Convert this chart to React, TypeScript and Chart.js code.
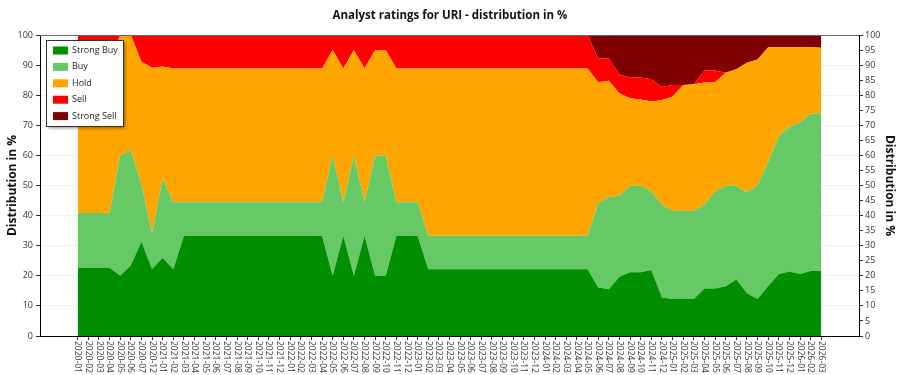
import React, { useEffect, useRef } from 'react';
import { Chart, registerables } from 'chart.js';
Chart.register(...registerables);

const FONT = "'Open Sans', 'Noto Sans', sans-serif";

const months = [
  '2020-01', '2020-02', '2020-03', '2020-04', '2020-05', '2020-06', '2020-07', '2020-12',
  '2021-01', '2021-02', '2021-03', '2021-04', '2021-05', '2021-06', '2021-07', '2021-08', '2021-09', '2021-10', '2021-11', '2021-12',
  '2022-01', '2022-02', '2022-03', '2022-04', '2022-05', '2022-06', '2022-07', '2022-08', '2022-09', '2022-10', '2022-11', '2022-12',
  '2023-01', '2023-02', '2023-03', '2023-04', '2023-05', '2023-06', '2023-07', '2023-08', '2023-09', '2023-10', '2023-11', '2023-12',
  '2024-01', '2024-02', '2024-03', '2024-04', '2024-05', '2024-06', '2024-07', '2024-08', '2024-09', '2024-10', '2024-11', '2024-12',
  '2025-01', '2025-02', '2025-03', '2025-04', '2025-05', '2025-06', '2025-07', '2025-08', '2025-09', '2025-10', '2025-11', '2025-12',
  '2026-01', '2026-02', '2026-03',
];

const strongBuy = [
  22.7, 22.7, 22.7, 22.7, 20, 23.5, 31.3, 22.3,
  26, 22.2, 33.3, 33.3, 33.3, 33.3, 33.3, 33.3, 33.3, 33.3, 33.3, 33.3,
  33.3, 33.3, 33.3, 33.3, 20, 33.3, 20, 33.3, 20, 20, 33.3, 33.3,
  33.3, 22.2, 22.2, 22.2, 22.2, 22.2, 22.2, 22.2, 22.2, 22.2, 22.2, 22.2,
  22.2, 22.2, 22.2, 22.2, 22.2, 16.1, 15.5, 19.7, 21.2, 21.2, 21.9, 12.8,
  12.3, 12.3, 12.3, 15.8, 15.8, 16.5, 18.8, 14.2, 12.3, 16.6, 20.5, 21.4,
  20.6, 21.6, 21.6,
];
const buy = [
  18.2, 18.2, 18.2, 18.2, 40, 38.3, 18.9, 11.8,
  26.4, 22.2, 11.1, 11.1, 11.1, 11.1, 11.1, 11.1, 11.1, 11.1, 11.1, 11.1,
  11.1, 11.1, 11.1, 11.1, 40, 11.1, 40, 11.1, 40, 40, 11.1, 11.1,
  11.1, 11.1, 11.1, 11.1, 11.1, 11.1, 11.1, 11.1, 11.1, 11.1, 11.1, 11.1,
  11.1, 11.1, 11.1, 11.1, 11.1, 28, 30.8, 26.9, 28.7, 28.7, 26.3, 30.7,
  29.3, 29.3, 29.3, 27.9, 32.2, 33.4, 31.1, 33.5, 37.9, 41.3, 45.9, 48.1,
  50.3, 52.2, 52.4,
];
const hold = [
  50, 50, 50, 50, 40, 38.2, 40.9, 55,
  37.1, 44.5, 44.5, 44.5, 44.5, 44.5, 44.5, 44.5, 44.5, 44.5, 44.5, 44.5,
  44.5, 44.5, 44.5, 44.5, 35, 44.5, 35, 44.5, 35, 35, 44.5, 44.5,
  44.5, 55.6, 55.6, 55.6, 55.6, 55.6, 55.6, 55.6, 55.6, 55.6, 55.6, 55.6,
  55.6, 55.6, 55.6, 55.6, 55.6, 40.2, 38.5, 34, 29.1, 28.7, 29.7, 34.9,
  37.9, 41.8, 42, 40.5, 36.3, 37.6, 38.7, 43.1, 41.7, 38, 29.5, 26.4,
  25, 22.1, 21.8,
];
const sell = [
  9.1, 9.1, 9.1, 9.1, 0, 0, 8.9, 10.9,
  10.5, 11.1, 11.1, 11.1, 11.1, 11.1, 11.1, 11.1, 11.1, 11.1, 11.1, 11.1,
  11.1, 11.1, 11.1, 11.1, 5, 11.1, 5, 11.1, 5, 5, 11.1, 11.1,
  11.1, 11.1, 11.1, 11.1, 11.1, 11.1, 11.1, 11.1, 11.1, 11.1, 11.1, 11.1,
  11.1, 11.1, 11.1, 11.1, 11.1, 7.9, 7.4, 6.3, 6.9, 7.3, 7.4, 4.4,
  3.9, 0, 0, 4, 3.9, 0, 0, 0, 0, 0, 0, 0,
  0, 0, 0,
];
const strongSell = [
  0, 0, 0, 0, 0, 0, 0, 0,
  0, 0, 0, 0, 0, 0, 0, 0, 0, 0, 0, 0,
  0, 0, 0, 0, 0, 0, 0, 0, 0, 0, 0, 0,
  0, 0, 0, 0, 0, 0, 0, 0, 0, 0, 0, 0,
  0, 0, 0, 0, 0, 7.8, 7.8, 13.1, 14.1, 14.1, 14.7, 17.2,
  16.6, 16.6, 16.4, 11.8, 11.8, 12.5, 11.4, 9.2, 8.1, 4.1, 4.1, 4.1,
  4.1, 4.1, 4.2,
];

const seriesNames = ['Strong Buy', 'Buy', 'Hold', 'Sell', 'Strong Sell'];
const seriesColors = ['#008f00', '#66c966', '#ffa500', '#ff0000', '#800000'];

const TITLE = 'Analyst ratings for URI - distribution in %';
const AXIS_TITLE = 'Distribution in %';

export default function App() {
  const ref = useRef<HTMLCanvasElement>(null);

  useEffect(() => {
    if (!ref.current) return;
    const values = [strongBuy, buy, hold, sell, strongSell];
    const datasets = values.map((data, k) => ({
      label: seriesNames[k],
      data,
      backgroundColor: seriesColors[k],
      borderColor: seriesColors[k],
      borderWidth: 0,
      pointRadius: 0,
      pointHoverRadius: 0,
      tension: 0,
      fill: k === 0 ? 'origin' : '-1',
      yAxisID: 'y',
    }));

    const overlay = {
      id: 'overlay',
      afterDraw(chart: any) {
        const { ctx, chartArea, scales } = chart;
        const xs = scales.x;
        ctx.save();
        // top border of plot box
        ctx.strokeStyle = '#666';
        ctx.lineWidth = 1;
        ctx.beginPath();
        ctx.moveTo(chartArea.left, Math.round(chartArea.top) + 0.5);
        ctx.lineTo(chartArea.right, Math.round(chartArea.top) + 0.5);
        ctx.stroke();

        // x labels, rotated clockwise
        ctx.font = `8.5px ${FONT}`;
        ctx.fillStyle = '#333';
        ctx.textAlign = 'left';
        ctx.textBaseline = 'middle';
        months.forEach((m, i) => {
          const px = xs.getPixelForValue(i);
          ctx.save();
          ctx.translate(px, chartArea.bottom + 5);
          ctx.rotate(Math.PI / 2);
          ctx.fillText(m, 0, 0);
          ctx.restore();
        });

        // legend box inside plot
        const lx = chartArea.left + 6;
        const ly = chartArea.top + 5;
        const lw = 77;
        const lh = 86;
        ctx.save();
        ctx.shadowColor = 'rgba(0,0,0,0.45)';
        ctx.shadowBlur = 3;
        ctx.shadowOffsetX = 2;
        ctx.shadowOffsetY = 2;
        ctx.fillStyle = '#fff';
        ctx.fillRect(lx, ly, lw, lh);
        ctx.restore();
        ctx.strokeStyle = '#333';
        ctx.lineWidth = 1;
        ctx.strokeRect(lx + 0.5, ly + 0.5, lw, lh);
        ctx.font = `9px ${FONT}`;
        ctx.textAlign = 'left';
        ctx.textBaseline = 'middle';
        seriesNames.forEach((name, k) => {
          const cy = ly + 10.5 + k * 16.4;
          ctx.fillStyle = seriesColors[k];
          ctx.fillRect(lx + 7, cy - 4, 15, 8);
          ctx.fillStyle = '#222';
          ctx.fillText(name, lx + 26, cy);
        });
        ctx.restore();
      },
    };

    const chart = new Chart(ref.current, {
      type: 'line',
      data: { labels: months.map((_, i) => i), datasets },
      plugins: [overlay],
      options: {
        animation: false,
        responsive: false,
        maintainAspectRatio: false,
        layout: { padding: 0 },
        plugins: {
          legend: { display: false },
          tooltip: { enabled: false },
          title: {
            display: true,
            text: TITLE,
            color: '#111',
            font: { family: FONT, size: 11.5, weight: 'bold' },
            padding: { top: 8.5, bottom: 12.7 },
          },
        },
        scales: {
          x: {
            type: 'linear',
            min: -3.55,
            max: 73.55,
            afterBuildTicks: (s: any) => {
              s.ticks = months.map((_, i) => ({ value: i }));
            },
            afterFit: (s: any) => {
              s.height = 39;
            },
            ticks: { display: false },
            grid: {
              display: true,
              drawOnChartArea: false,
              drawTicks: true,
              tickLength: 4,
              tickColor: '#333',
            },
            border: { display: true, color: '#000', width: 1 },
          },
          y: {
            position: 'left',
            stacked: true,
            min: 0,
            max: 100,
            afterFit: (s: any) => {
              s.width = 40;
            },
            ticks: {
              stepSize: 10,
              color: '#333',
              padding: 3,
              font: { family: FONT, size: 9 },
            },
            grid: {
              color: '#e6e6e6',
              tickColor: '#333',
              tickLength: 4,
            },
            border: { display: true, color: '#000', dash: [1, 1], width: 1 },
            title: {
              display: true,
              text: AXIS_TITLE,
              color: '#111',
              font: { family: FONT, size: 12, weight: 'bold' },
              padding: { top: 5, bottom: 0 },
            },
          },
          y2: {
            position: 'right',
            min: 0,
            max: 100,
            afterFit: (s: any) => {
              s.width = 41;
            },
            ticks: {
              stepSize: 5,
              color: '#333',
              padding: 2,
              font: { family: FONT, size: 9 },
            },
            grid: {
              drawOnChartArea: false,
              tickColor: '#333',
              tickLength: 4,
            },
            border: { display: true, color: '#000', dash: [1, 1], width: 1 },
            title: {
              display: true,
              text: AXIS_TITLE,
              color: '#111',
              font: { family: FONT, size: 12, weight: 'bold' },
              padding: { top: 3, bottom: 0 },
            },
          },
        },
      },
    });
    return () => chart.destroy();
  }, []);

  return (
    <div style={{ position: 'absolute', left: 0, top: 0, width: 900, height: 375, background: '#fff' }}>
      <canvas ref={ref} width={900} height={375} style={{ display: 'block' }} />
    </div>
  );
}
